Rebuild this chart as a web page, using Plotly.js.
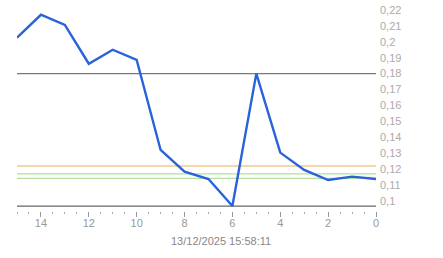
<!DOCTYPE html>
<html>
<head>
<meta charset="utf-8">
<script src="https://cdn.plot.ly/plotly-3.0.1.min.js"></script>
<style>html,body{margin:0;padding:0;background:#fff;}#chart{width:443px;height:258px;}</style>
</head>
<body>
<div id="chart"></div>
<script>
// Data
const xValues = [15, 14, 13, 12, 11, 10, 9, 8, 7, 6, 5, 4, 3, 2, 1, 0];
const yValues = [0.2026, 0.2170, 0.2106, 0.1862, 0.1950, 0.1886, 0.1320, 0.1183, 0.1137, 0.0967, 0.1800, 0.1303, 0.1194, 0.1131, 0.1152, 0.1137];
const refLevels = [0.18, 0.1219, 0.1169, 0.1141];
const refColors = ['#7a7a7a', '#f2c98a', '#b3e09e', '#b3e09e'];
const yTickVals = [0.10, 0.11, 0.12, 0.13, 0.14, 0.15, 0.16, 0.17, 0.18, 0.19, 0.20, 0.21, 0.22];
const yTickText = ['0,1', '0,11', '0,12', '0,13', '0,14', '0,15', '0,16', '0,17', '0,18', '0,19', '0,2', '0,21', '0,22'];
const xTickVals = [14, 12, 10, 8, 6, 4, 2, 0];
const titleText = '13/12/2025 15:58:11';

const baseLevel = Math.min.apply(null, yValues);

const shapes = refLevels.map((v, i) => ({
  type: 'line', xref: 'paper', yref: 'y', x0: 0, x1: 1, y0: v, y1: v,
  line: {color: refColors[i], width: 1.3}, layer: 'below'
}));
shapes.push({
  type: 'line', xref: 'paper', yref: 'y', x0: 0, x1: 1, y0: baseLevel, y1: baseLevel,
  line: {color: '#666666', width: 1.3}, layer: 'below'
});

const trace = {
  x: xValues, y: yValues, type: 'scatter', mode: 'lines',
  line: {color: '#2a62d9', width: 2.4}, hoverinfo: 'none'
};

const layout = {
  width: 443, height: 258,
  margin: {l: 17, r: 67, t: 10, b: 47},
  paper_bgcolor: '#ffffff', plot_bgcolor: '#ffffff',
  showlegend: false,
  font: {family: '"Liberation Sans", Arial, sans-serif', size: 11, color: '#999999'},
  xaxis: {
    range: [15, 0], showgrid: false, zeroline: false, showline: false,
    tickvals: xTickVals, ticks: 'outside', ticklen: 5, tickcolor: '#999999', tickwidth: 1,
    ticklabelstandoff: -3,
    minor: {tickmode: 'linear', tick0: 0, dtick: 0.5, ticks: 'outside', ticklen: 2, tickcolor: '#aaaaaa', tickwidth: 1, showgrid: false},
    tickfont: {size: 11, color: '#999999'}, fixedrange: true
  },
  yaxis: {
    range: [0.0936, 0.22], side: 'right', showgrid: false, zeroline: false, showline: false,
    tickvals: yTickVals, ticktext: yTickText, ticks: '',
    ticklabelstandoff: 3,
    tickfont: {size: 11, color: '#aaaaaa'}, fixedrange: true
  },
  shapes: shapes,
  annotations: [{
    text: titleText, xref: 'paper', yref: 'paper',
    x: (221 - 17) / 359, y: -(240.7 - 211) / 201, xanchor: 'center', yanchor: 'middle',
    showarrow: false, font: {size: 11, color: '#888888'}
  }]
};

Plotly.newPlot('chart', [trace], layout, {displayModeBar: false, staticPlot: true});
</script>
</body>
</html>
